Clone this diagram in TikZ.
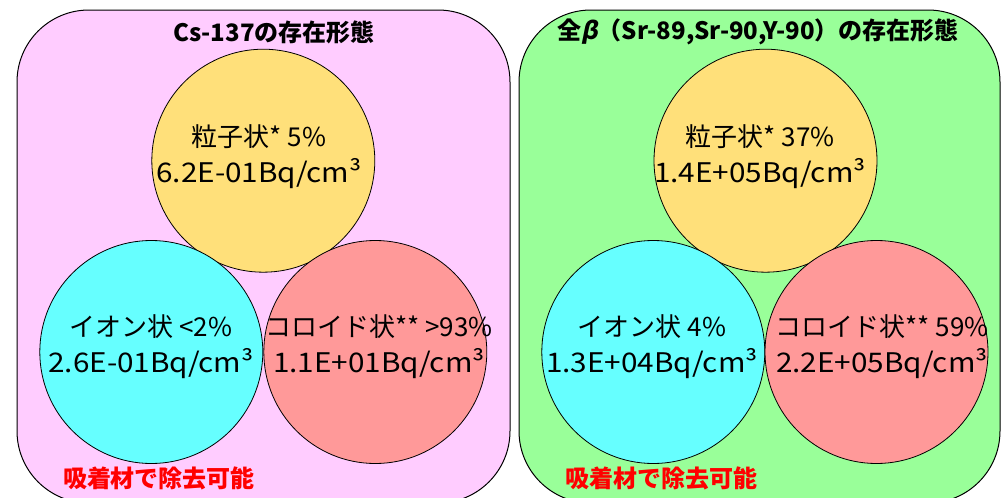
\documentclass[tikz,border=0pt]{standalone}
\usepackage{fontspec}
\setmainfont{Noto Sans CJK JP}
\newfontfamily\latf{Noto Sans CJK JP}[FakeStretch=1.1]
\newfontfamily\cjf{Noto Sans CJK JP}
\newcommand\fl[1]{{\cjf\fontsize{26}{36}\selectfont #1}}
\definecolor{pinkc}{RGB}{255,204,255}
\definecolor{greenc}{RGB}{153,255,153}
\definecolor{yelc}{RGB}{255,224,122}
\definecolor{cyanc}{RGB}{102,255,255}
\definecolor{redc}{RGB}{255,153,153}
\definecolor{redt}{RGB}{255,0,0}
\tikzset{
  panel/.style={draw=black, line width=1pt, rounded corners=72pt},
  circ/.style={circle, draw=black, line width=0.8pt, minimum size=223pt, inner sep=0pt},
  lbl/.style={align=center, inner sep=0pt, font=\latf\fontsize{27}{36}\selectfont},
  ttl/.style={inner sep=0pt, font=\bfseries\fontsize{24}{28}\selectfont},
  note/.style={inner sep=0pt, text=redt, font=\bfseries\fontsize{24}{28}\selectfont}
}
\begin{document}
\begin{tikzpicture}[x=1pt,y=-1pt]
\useasboundingbox (0,0) rectangle (1002,498);
\clip (0,0) rectangle (1002,498);
% panels
\draw[panel, fill=pinkc] (17,10) rectangle (510,503);
\draw[panel, fill=greenc] (519,10) rectangle (1000,503);
% titles
\node[ttl] (tL) at (274,32) {Cs-137の存在形態};
\node[ttl] (tR) at (758,32) {全{\addfontfeature{FakeSlant=0.2}β}（Sr-89,Sr-90,Y-90）の存在形態};
% left circles
\node[circ, fill=yelc] (yL) at (263.3,160.7) {};
\node[circ, fill=cyanc] (cL) at (151.3,352) {};
\node[circ, fill=redc] (rL) at (375.3,352) {};
% right circles
\node[circ, fill=yelc] (yR) at (765.5,160.7) {};
\node[circ, fill=cyanc] (cR) at (653.3,352) {};
\node[circ, fill=redc] (rR) at (876.5,352) {};
% left labels
\node[lbl] (yLt) at (259,157) {\fl{粒子状* 5\%}\\6.2E-01Bq/cm³};
\node[lbl] (cLt) at (151,347) {\fl{イオン状 <2\%}\\2.6E-01Bq/cm³};
\node[lbl] (rLt) at (379,347) {\fl{コロイド状** >93\%}\\1.1E+01Bq/cm³};
% right labels
\node[lbl] (yRt) at (760,157) {\fl{粒子状* 37\%}\\1.4E+05Bq/cm³};
\node[lbl] (cRt) at (652,347) {\fl{イオン状 4\%}\\1.3E+04Bq/cm³};
\node[lbl] (rRt) at (882,347) {\fl{コロイド状** 59\%}\\2.2E+05Bq/cm³};
% notes
\node[note] (nL) at (159,478) {吸着材で除去可能};
\node[note] (nR) at (661,478) {吸着材で除去可能};
\end{tikzpicture}
\end{document}
